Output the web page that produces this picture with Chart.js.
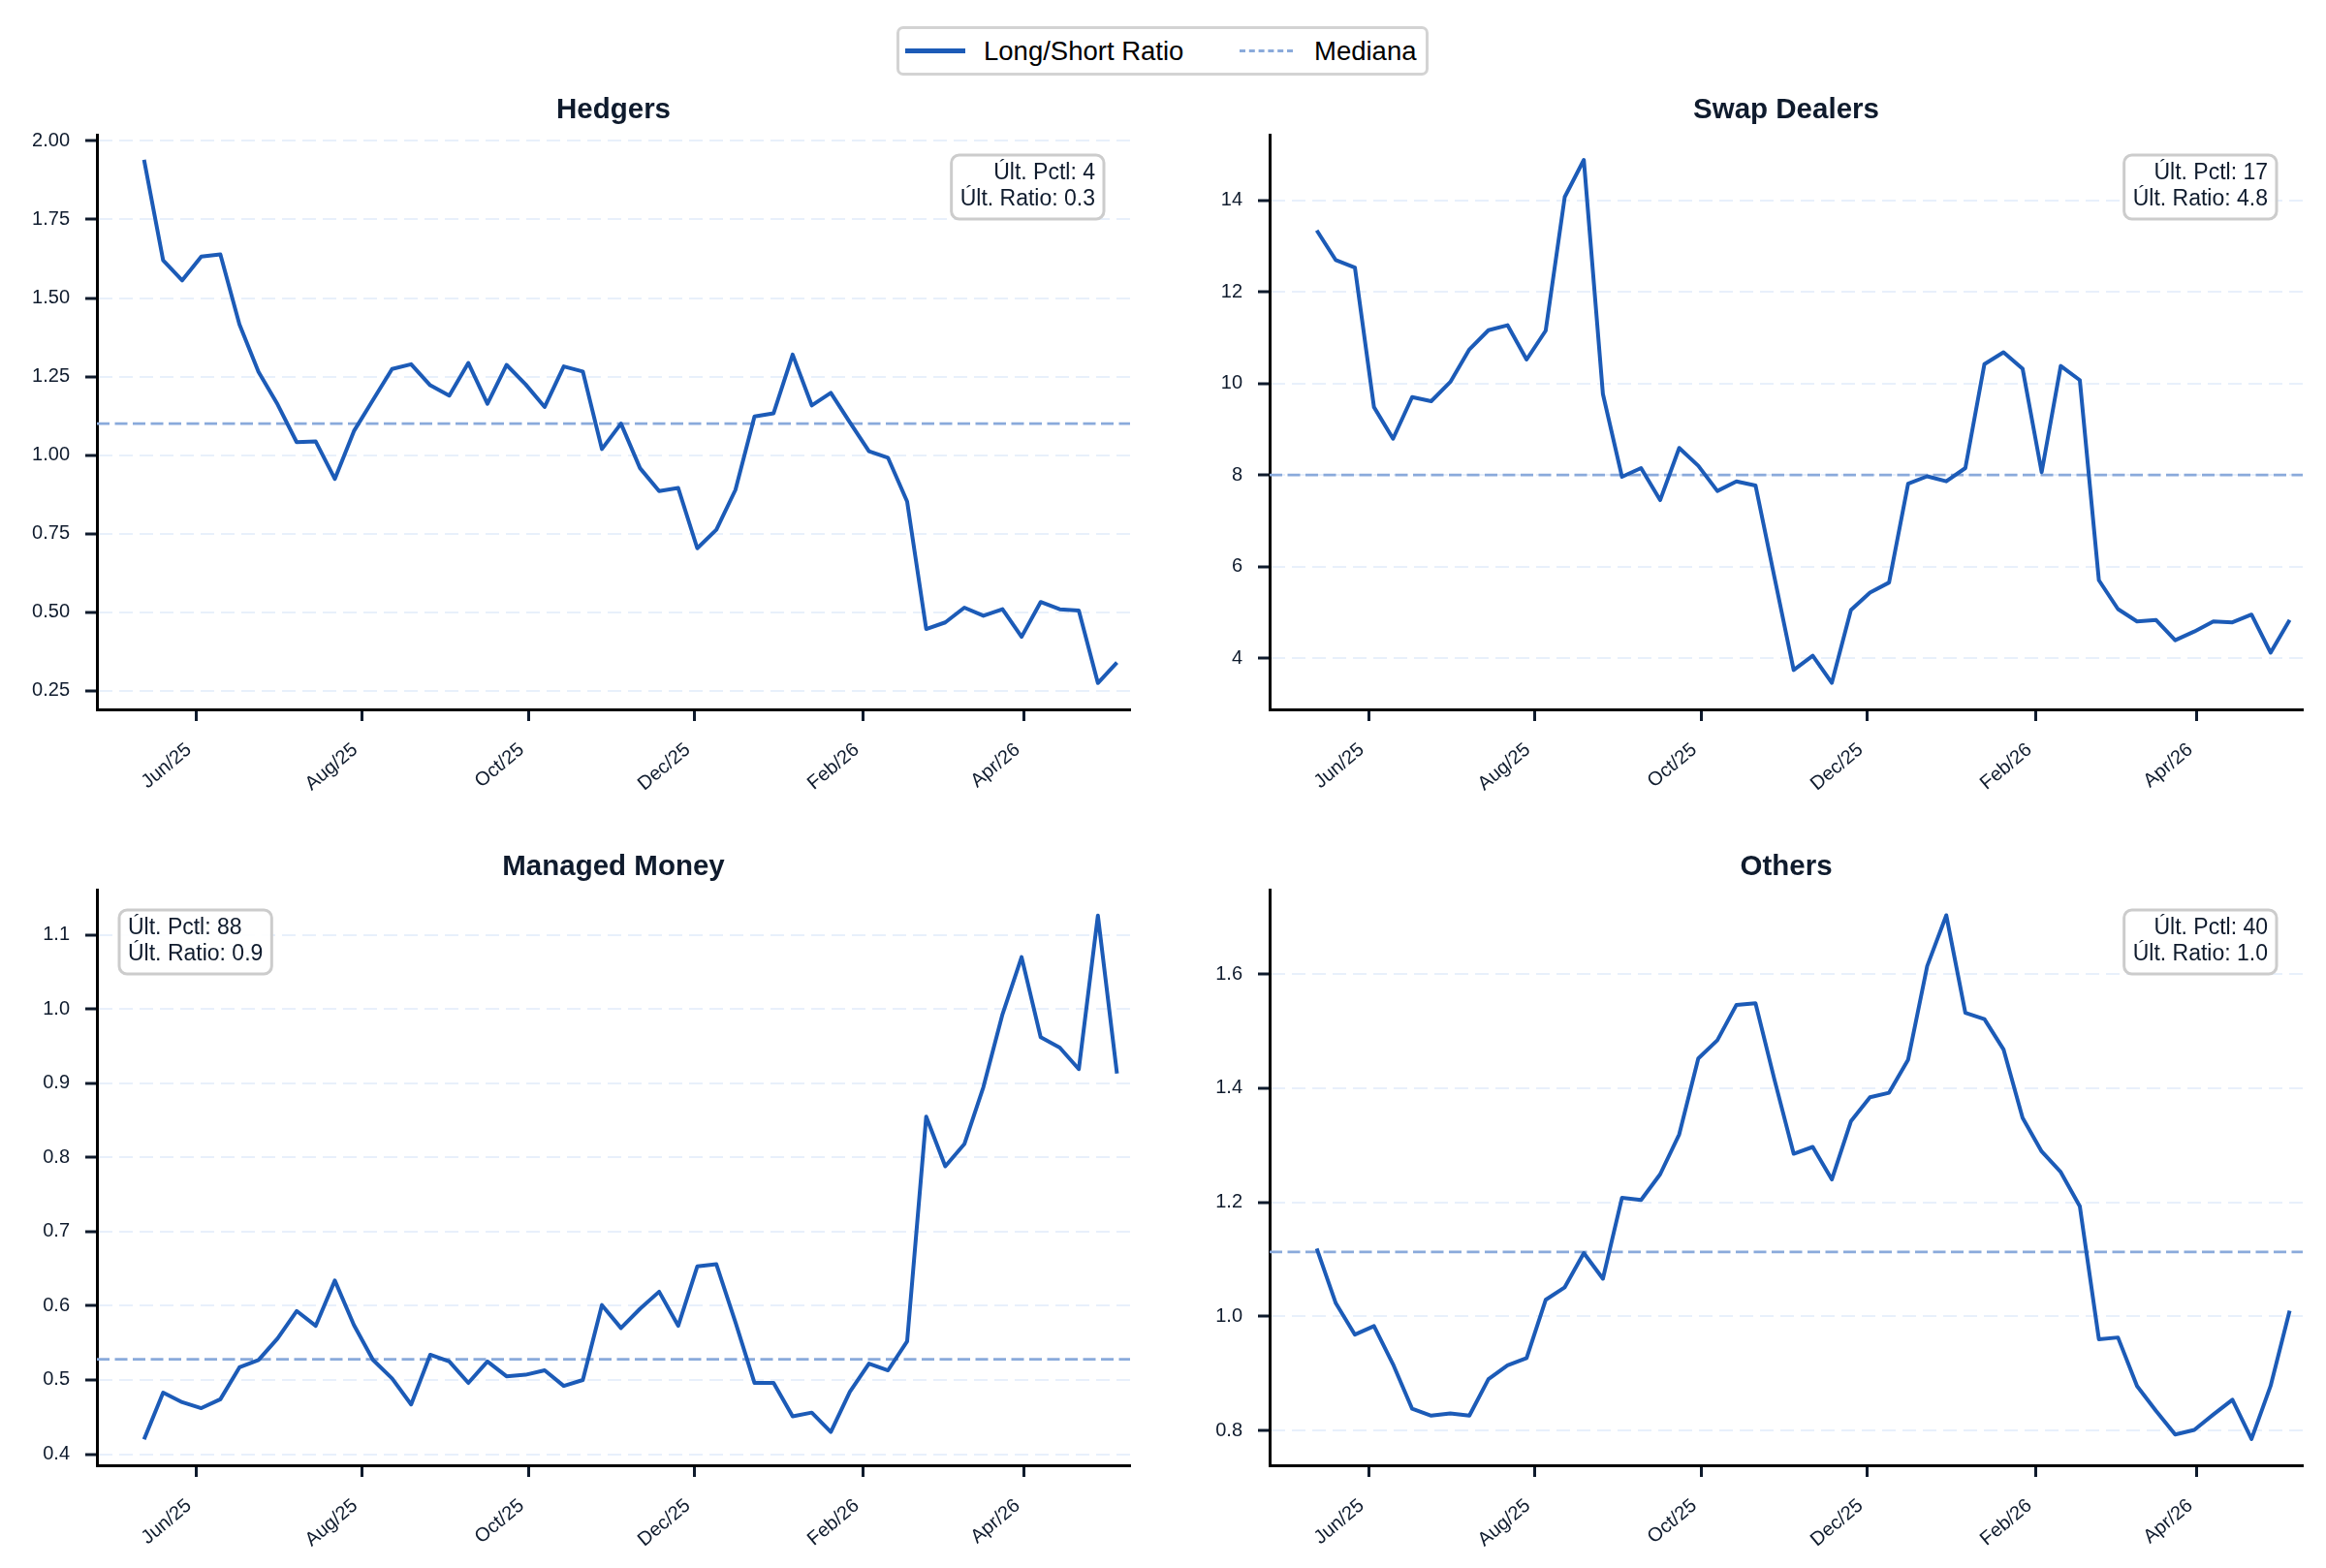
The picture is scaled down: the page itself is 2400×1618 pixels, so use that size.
<!DOCTYPE html>
<html>
<head>
<meta charset="utf-8">
<script src="https://cdn.jsdelivr.net/npm/chart.js@4.4.1/dist/chart.umd.min.js"></script>
<style>
  html, body { margin: 0; padding: 0; background: #ffffff; }
  body { width: 2400px; height: 1618px; position: relative; overflow: hidden; font-family: 'Liberation Sans', Arial, sans-serif; }
  canvas { position: absolute; }
  #legend { position: absolute; left: 925px; top: 27px; width: 543px; height: 45px; border: 3px solid #d3d3d3; border-radius: 7px; background: #fff; }
  .lg-item { position: absolute; top: 0; height: 45px; display: flex; align-items: center; font-size: 27.5px; color: #000; white-space: nowrap; }
  .lg-line { display: inline-block; height: 0; }
</style>
</head>
<body>
<div id="legend">
  <div class="lg-item" style="left:6px"><span class="lg-line" style="width:62px;border-top:5px solid #1c5bb7;margin-right:19px"></span><span>Long/Short Ratio</span></div>
  <div class="lg-item" style="left:351px"><span class="lg-line" style="width:55px;border-top:3px dashed #8aaadb;margin-right:22px"></span><span>Mediana</span></div>
</div>
<canvas id="c1" width="1200" height="740" style="left:0;top:80px"></canvas>
<canvas id="c2" width="1200" height="740" style="left:1200px;top:80px"></canvas>
<canvas id="c3" width="1200" height="760" style="left:0;top:840px"></canvas>
<canvas id="c4" width="1200" height="760" style="left:1200px;top:840px"></canvas>
<script>
// ---------------- DATA ----------------
const dates = [
  '2025-05-13','2025-05-20','2025-05-27','2025-06-03','2025-06-10','2025-06-17','2025-06-24',
  '2025-07-01','2025-07-08','2025-07-15','2025-07-22','2025-07-29','2025-08-05','2025-08-12',
  '2025-08-19','2025-08-26','2025-09-02','2025-09-09','2025-09-16','2025-09-23','2025-09-30',
  '2025-10-07','2025-10-14','2025-10-21','2025-10-28','2025-11-04','2025-11-11','2025-11-18',
  '2025-11-25','2025-12-02','2025-12-09','2025-12-16','2025-12-23','2025-12-30','2026-01-06',
  '2026-01-13','2026-01-20','2026-01-27','2026-02-03','2026-02-10','2026-02-17','2026-02-24',
  '2026-03-03','2026-03-10','2026-03-17','2026-03-24','2026-03-31','2026-04-07','2026-04-14',
  '2026-04-21','2026-04-28','2026-05-05'
];
const hedgers = [
  1.94, 1.62, 1.556, 1.632, 1.639, 1.416, 1.265, 1.161, 1.041, 1.043, 0.924, 1.076, 1.175,
  1.274, 1.289, 1.222, 1.189, 1.293, 1.163, 1.287, 1.225, 1.153, 1.282, 1.266, 1.019, 1.100,
  0.958, 0.885, 0.895, 0.703, 0.762, 0.889, 1.123, 1.133, 1.320, 1.158, 1.198, 1.104, 1.012,
  0.991, 0.852, 0.446, 0.467, 0.514, 0.488, 0.509, 0.421, 0.532, 0.509, 0.505, 0.274, 0.339
];
const swapDealers = [
  13.34, 12.69, 12.53, 9.48, 8.79, 9.70, 9.61, 10.03, 10.74, 11.16, 11.27, 10.52, 11.15,
  14.07, 14.88, 9.77, 7.96, 8.15, 7.45, 8.59, 8.20, 7.65, 7.86, 7.77, 5.75, 3.74,
  4.05, 3.46, 5.05, 5.43, 5.65, 7.81, 7.97, 7.86, 8.15, 10.42, 10.68, 10.32, 8.06,
  10.38, 10.07, 5.70, 5.07, 4.80, 4.83, 4.39, 4.58, 4.80, 4.78, 4.95, 4.12, 4.83
];
const managedMoney = [
  0.420, 0.483, 0.470, 0.462, 0.474, 0.517, 0.527, 0.556, 0.593, 0.573, 0.634, 0.574, 0.527,
  0.502, 0.467, 0.534, 0.525, 0.496, 0.525, 0.505, 0.507, 0.513, 0.492, 0.500, 0.601, 0.570,
  0.596, 0.619, 0.573, 0.653, 0.656, 0.578, 0.496, 0.496, 0.451, 0.456, 0.430, 0.484, 0.522,
  0.513, 0.552, 0.855, 0.788, 0.818, 0.895, 0.993, 1.070, 0.962, 0.948, 0.919, 1.126, 0.913
];
const others = [
  1.119, 1.023, 0.968, 0.983, 0.916, 0.838, 0.826, 0.830, 0.826, 0.890, 0.914, 0.927, 1.029,
  1.051, 1.111, 1.066, 1.208, 1.204, 1.249, 1.319, 1.452, 1.484, 1.546, 1.549, 1.414, 1.285,
  1.297, 1.240, 1.342, 1.384, 1.392, 1.450, 1.614, 1.703, 1.532, 1.521, 1.468, 1.348, 1.289,
  1.253, 1.193, 0.960, 0.963, 0.878, 0.834, 0.793, 0.801, 0.828, 0.854, 0.785, 0.878, 1.010
];
const medianValues = [1.10, 8.0, 0.528, 1.113];
const panelTitles = ['Hedgers', 'Swap Dealers', 'Managed Money', 'Others'];
const lastPctl = [4, 17, 88, 40];
const lastRatio = ['0.3', '4.8', '0.9', '1.0'];
const tickDates = ['2025-06-01','2025-08-01','2025-10-01','2025-12-01','2026-02-01','2026-04-01'];
const tickLabels = ['Jun/25','Aug/25','Oct/25','Dec/25','Feb/26','Apr/26'];
const hedgersTicks = [0.25, 0.50, 0.75, 1.00, 1.25, 1.50, 1.75, 2.00];
const swapTicks = [4, 6, 8, 10, 12, 14];
const managedTicks = [0.4, 0.5, 0.6, 0.7, 0.8, 0.9, 1.0, 1.1];
const othersTicks = [0.8, 1.0, 1.2, 1.4, 1.6];

// ---------------- RENDER ----------------
const FONT = "'Liberation Sans', Arial, Helvetica, sans-serif";
const NAVY = '#0f1b2d';
const LINE = '#1c5bb7';
const MED = '#8aaadb';
const GRID = '#e8f0fb';
Chart.defaults.font.family = FONT;

const toDay = s => Date.UTC(+s.slice(0,4), +s.slice(5,7) - 1, +s.slice(8,10)) / 864e5;
const xDays = dates.map(toDay);
const tickDays = tickDates.map(toDay);
const xMin = xDays[0] - 17.3;
const xMax = xDays[xDays.length - 1] + 4.8;

function roundRect(ctx, x, y, w, h, r) {
  ctx.beginPath();
  ctx.moveTo(x + r, y);
  ctx.lineTo(x + w - r, y);
  ctx.arcTo(x + w, y, x + w, y + r, r);
  ctx.lineTo(x + w, y + h - r);
  ctx.arcTo(x + w, y + h, x + w - r, y + h, r);
  ctx.lineTo(x + r, y + h);
  ctx.arcTo(x, y + h, x, y + h - r, r);
  ctx.lineTo(x, y + r);
  ctx.arcTo(x, y, x + r, y, r);
  ctx.closePath();
}

const statBox = {
  id: 'statBox',
  afterDraw(chart, args, opts) {
    const ctx = chart.ctx;
    const ca = chart.chartArea;
    ctx.save();
    ctx.font = '23px ' + FONT;
    const w = Math.max(...opts.lines.map(l => ctx.measureText(l).width));
    const padX = 9;
    const bw = w + padX * 2;
    const bh = 66;
    const by = ca.top + 21;
    const bx = opts.align === 'left' ? ca.left + 23 : ca.right - 27 - bw;
    roundRect(ctx, bx, by, bw, bh, 8);
    ctx.fillStyle = 'rgba(255,255,255,0.9)';
    ctx.fill();
    ctx.lineWidth = 3;
    ctx.strokeStyle = '#cccccc';
    ctx.stroke();
    ctx.fillStyle = NAVY;
    ctx.textBaseline = 'alphabetic';
    ctx.textAlign = opts.align === 'left' ? 'left' : 'right';
    const tx = opts.align === 'left' ? bx + padX : bx + bw - padX;
    ctx.fillText(opts.lines[0], tx, by + 25);
    ctx.fillText(opts.lines[1], tx, by + 52);
    ctx.restore();
  }
};

function makePanel(id, idx, values, yTicks, yMin, yMax, dec, cfg) {
  const pts = values.map((v, i) => ({ x: xDays[i], y: v }));
  const med = medianValues[idx];
  new Chart(document.getElementById(id), {
    type: 'line',
    data: {
      datasets: [
        { label: 'Long/Short Ratio', data: pts, borderColor: LINE, borderWidth: 4, pointRadius: 0,
          tension: 0, borderJoinStyle: 'round', borderCapStyle: 'butt', fill: false },
        { label: 'Mediana', data: [{ x: xMin, y: med }, { x: xMax, y: med }], borderColor: MED,
          borderWidth: 2.8, borderDash: [13, 5.5], pointRadius: 0, fill: false }
      ]
    },
    plugins: [statBox],
    options: {
      responsive: false,
      animation: false,
      devicePixelRatio: 1,
      layout: { padding: { left: 0, right: cfg.padRight, top: 0, bottom: 0 } },
      plugins: {
        legend: { display: false },
        tooltip: { enabled: false },
        title: {
          display: true, text: panelTitles[idx], fullSize: false, color: NAVY,
          font: { family: FONT, size: 29.5, weight: 'bold', lineHeight: 1.2 },
          padding: { top: cfg.titleTop, bottom: cfg.titleBottom }
        },
        statBox: { lines: ['Últ. Pctl: ' + lastPctl[idx], 'Últ. Ratio: ' + lastRatio[idx]], align: cfg.boxAlign }
      },
      scales: {
        x: {
          type: 'linear', min: xMin, max: xMax, bounds: 'data',
          afterBuildTicks: s => { s.ticks = tickDays.map(v => ({ value: v })); },
          afterFit: s => { s.height = 88; },
          ticks: {
            autoSkip: false, maxRotation: 40, minRotation: 40, padding: 18, labelOffset: -7,
            color: NAVY, font: { family: FONT, size: 20 },
            callback: (v, i) => tickLabels[i]
          },
          grid: { display: true, drawOnChartArea: false, drawTicks: true, tickLength: 12, tickWidth: 3, tickColor: NAVY },
          border: { display: true, color: '#000000', width: 3 }
        },
        y: {
          type: 'linear', min: yMin, max: yMax, bounds: 'data',
          afterBuildTicks: s => { s.ticks = yTicks.map(v => ({ value: v })); },
          afterFit: s => { s.width = cfg.yWidth; },
          ticks: {
            padding: 16, color: NAVY, font: { family: FONT, size: 20 },
            callback: (v, i) => yTicks[i].toFixed(dec)
          },
          grid: { display: true, drawOnChartArea: true, color: GRID, lineWidth: 2, drawTicks: true,
                  tickLength: 12, tickWidth: 3, tickColor: NAVY },
          border: { display: true, color: '#000000', width: 3, dash: [14, 7] }
        }
      }
    }
  });
}

makePanel('c1', 0, hedgers, hedgersTicks, 0.19, 2.02, 2,
  { padRight: 34, yWidth: 100, titleTop: 15.8, titleBottom: 7.8, boxAlign: 'right' });
makePanel('c2', 1, swapDealers, swapTicks, 2.88, 15.43, 0,
  { padRight: 24, yWidth: 110, titleTop: 15.8, titleBottom: 7.8, boxAlign: 'right' });
makePanel('c3', 2, managedMoney, managedTicks, 0.385, 1.161, 1,
  { padRight: 34, yWidth: 100, titleTop: 37.3, titleBottom: 5.3, boxAlign: 'left' });
makePanel('c4', 3, others, othersTicks, 0.739, 1.748, 1,
  { padRight: 24, yWidth: 110, titleTop: 37.3, titleBottom: 5.3, boxAlign: 'right' });
</script>
</body>
</html>
